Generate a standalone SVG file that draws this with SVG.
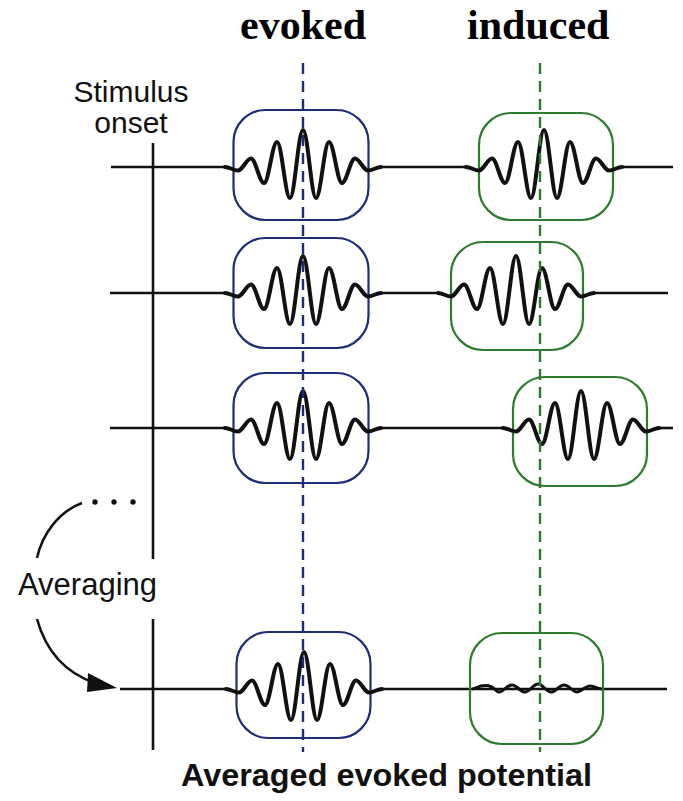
<svg xmlns="http://www.w3.org/2000/svg" xmlns:xlink="http://www.w3.org/1999/xlink" width="683" height="801" viewBox="0 0 683 801">
<style>
.bg{fill:#ffffff}
.trace{fill:none;stroke:#111;stroke-width:2.6}
.wave{fill:none;stroke:#111;stroke-width:4;stroke-linejoin:round;stroke-linecap:round}
.small{fill:none;stroke:#111;stroke-width:3;stroke-linejoin:round}
.boxE{fill:none;stroke:#1f2d78;stroke-width:2.2}
.boxI{fill:none;stroke:#2e7a2e;stroke-width:2.2}
.dashE{fill:none;stroke:#1f2d78;stroke-width:2.4;stroke-dasharray:11 7}
.dashI{fill:none;stroke:#2e7a2e;stroke-width:2.4;stroke-dasharray:11 7}
.axis{fill:none;stroke:#111;stroke-width:2.6}
.head{font-family:"Liberation Serif","Times New Roman",serif;font-weight:bold;font-size:42px;fill:#000}
.lbl{font-family:"Liberation Sans",Arial,sans-serif;font-size:30px;fill:#111}
.big{font-family:"Liberation Sans",Arial,sans-serif;font-size:31px;fill:#111}
.cap{font-family:"Liberation Sans",Arial,sans-serif;font-size:31px;font-weight:bold;fill:#111}
.arc{fill:none;stroke:#111;stroke-width:2.6}
</style>
<defs>
<path id="wave" d="M-78,0 C-73.3,0 -69.7,3.5 -65,3.5 C-60.3,3.5 -56.7,-8.5 -52,-8.5 C-47.3,-8.5 -43.7,16 -39,16 C-34.3,16 -30.7,-25 -26,-25 C-21.3,-25 -17.7,31 -13,31 C-8.3,31 -4.7,-37 0,-37 C4.7,-37 8.3,31 13,31 C17.7,31 21.3,-25 26,-25 C30.7,-25 34.3,16 39,16 C43.7,16 47.3,-8.5 52,-8.5 C56.7,-8.5 60.3,3.5 65,3.5 C69.7,3.5 73.3,0 78,0"/>
<path id="flat" d="M-66,0 C-62,0 -61,-3.5 -52,-3.5 C-43,-3.5 -43,3 -39,3 C-35,3 -31,-4 -26,-4 C-21,-4 -18,3 -13,3 C-8,3 -5,-5 0,-5 C5,-5 8,3 13,3 C18,3 21,-4 26,-4 C31,-4 35,3 39,3 C43,3 47,-3 52,-3 C57,-3 60,0 64,0"/>
</defs>
<rect class="bg" x="0" y="0" width="683" height="801"/>

<g id="labels">
<text class="head" x="240" y="39">evoked</text>
<text class="head" x="467" y="39">induced</text>
<text class="lbl" x="131" y="102" text-anchor="middle">Stimulus</text>
<text class="lbl" x="131" y="133" text-anchor="middle">onset</text>
<text class="big" x="18" y="595">Averaging</text>
<text class="cap" x="181" y="786" textLength="411" lengthAdjust="spacingAndGlyphs">Averaged evoked potential</text>
</g>

<g id="stimulus-axis">
<line class="axis" x1="153" y1="143" x2="153" y2="559"/>
<line class="axis" x1="153" y1="619" x2="153" y2="750"/>
</g>

<g id="connectors">
<line class="trace" x1="111" y1="167" x2="226" y2="167"/>
<line class="trace" x1="380" y1="167" x2="467" y2="167"/>
<line class="trace" x1="621" y1="167" x2="673" y2="167"/>
<line class="trace" x1="110" y1="293" x2="226" y2="293"/>
<line class="trace" x1="380" y1="293" x2="439" y2="293"/>
<line class="trace" x1="593" y1="293" x2="668" y2="293"/>
<line class="trace" x1="110" y1="428" x2="226" y2="428"/>
<line class="trace" x1="380" y1="428" x2="503" y2="428"/>
<line class="trace" x1="658" y1="428" x2="673" y2="428"/>
<line class="trace" x1="120" y1="689" x2="227" y2="689"/>
<line class="trace" x1="381" y1="689" x2="667" y2="689"/>
<path class="arc" d="M37,558 C42,535 58,512 82,503"/>
<circle cx="95" cy="502" r="2.7" fill="#111"/>
<circle cx="114" cy="502" r="2.7" fill="#111"/>
<circle cx="133" cy="502" r="2.7" fill="#111"/>
<path class="arc" d="M37,619 C45,648 63,672 95,683"/>
<polygon points="117,688 88,673 87,692" fill="#111"/>
</g>

<g id="evoked-1">
<rect class="boxE" x="233.5" y="110" width="135" height="110" rx="32"/>
<use xlink:href="#wave" href="#wave" class="wave" x="303" y="167"/>
</g>
<g id="evoked-2">
<rect class="boxE" x="233.5" y="238" width="135" height="110" rx="32"/>
<use xlink:href="#wave" href="#wave" class="wave" x="303" y="293"/>
</g>
<g id="evoked-3">
<rect class="boxE" x="233.5" y="373" width="135" height="110" rx="32"/>
<use xlink:href="#wave" href="#wave" class="wave" x="303" y="428"/>
</g>
<g id="evoked-4">
<rect class="boxE" x="236.5" y="632" width="134" height="106" rx="32"/>
<use xlink:href="#wave" href="#wave" class="wave" x="304" y="689"/>
</g>

<g id="induced-1">
<rect class="boxI" x="479" y="113" width="134" height="107" rx="32"/>
<use xlink:href="#wave" href="#wave" class="wave" x="544" y="167"/>
</g>
<g id="induced-2">
<rect class="boxI" x="451" y="242" width="132" height="108" rx="32"/>
<use xlink:href="#wave" href="#wave" class="wave" x="516" y="293"/>
</g>
<g id="induced-3">
<rect class="boxI" x="513" y="377" width="134" height="109" rx="32"/>
<use xlink:href="#wave" href="#wave" class="wave" x="581" y="428"/>
</g>
<g id="induced-4">
<rect class="boxI" x="470" y="633" width="133" height="111" rx="32"/>
<use xlink:href="#flat" href="#flat" class="small" x="538" y="689"/>
</g>

<g id="latency-markers">
<line class="dashE" x1="303" y1="63" x2="303" y2="752"/>
<line class="dashI" x1="540" y1="63" x2="540" y2="752"/>
</g>
</svg>
